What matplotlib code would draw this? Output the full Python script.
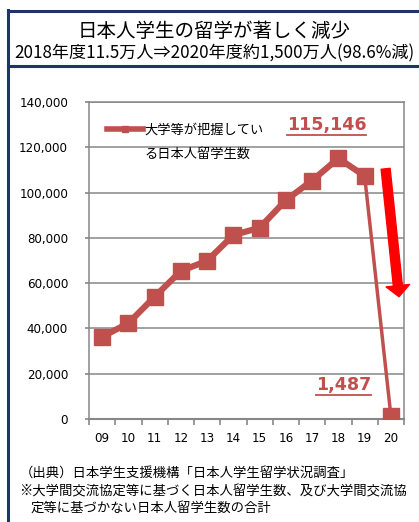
import matplotlib
matplotlib.use('Agg')
import matplotlib.pyplot as plt
from matplotlib.lines import Line2D

plt.rcParams['font.family'] = ['Noto Sans CJK JP', 'DejaVu Sans']

# 日本人学生留学状況調査 (年度, 人数)
years = ['09', '10', '11', '12', '13', '14', '15', '16', '17', '18', '19', '20']
students = [36302, 42320, 53991, 65373, 69869, 81219, 84456, 96641, 105301, 115146, 107346, 1487]
yticks = [0, 20000, 40000, 60000, 80000, 100000, 120000, 140000]

title = '日本人学生の留学が著しく減少'
subtitle = '2018年度11.5万人⇒2020年度約1,500万人(98.6%減)'
legend_lines = ['大学等が把握してい', 'る日本人留学生数']
notes = ['（出典）日本学生支援機構「日本人学生留学状況調査」',
         '※大学間交流協定等に基づく日本人留学生数、及び大学間交流協',
         '定等に基づかない日本人留学生数の合計']

red = '#c0504d'
grid_c = '#878787'
navy = '#1f3468'
W, H = 419, 522

fig = plt.figure(figsize=(W / 100, H / 100), dpi=100)

# 外枠とタイトル枠
def px_line(x0, y0, x1, y1, **kw):
    fig.add_artist(Line2D([x0 / W, x1 / W], [1 - y0 / H, 1 - y1 / H],
                          transform=fig.transFigure, **kw))

px_line(7.5, 10.5, W + 5, 10.5, color=navy, lw=2.2)
px_line(7.5, 65.5, W + 5, 65.5, color=navy, lw=2.2)
px_line(7.5, 9.5, 7.5, H + 5, color=navy, lw=2.2)

fig.text(214 / W, 1 - 31 / H, title, ha='center', va='center', fontsize=14)
fig.text(214 / W, 1 - 53 / H, subtitle, ha='center', va='center', fontsize=12.3,
         family=['Noto Sans CJK JP', 'DejaVu Sans'])

ax = fig.add_axes([89 / W, 1 - 419 / H, 315 / W, 317 / H])
x = list(range(len(years)))

# 2019年度までは太線、2020年度への落ち込みは細線
ax.plot(x[:-1], students[:-1], color=red, lw=4.5, marker='s', ms=12,
        solid_joinstyle='miter', zorder=3)
ax.plot(x[-2:], students[-2:], color=red, lw=2.5, zorder=2)
ax.plot(x[-1:], students[-1:], color=red, marker='s', ms=12, lw=0, zorder=3)

ax.set_xlim(-0.5, len(years) - 0.5)
ax.set_ylim(0, 140000)
ax.set_yticks(yticks)
ax.set_yticklabels([f'{v:,}' for v in yticks], family='DejaVu Sans', fontsize=8.6)
ax.set_xticks([i - 0.5 for i in range(len(years) + 1)], minor=False)
ax.set_xticklabels([])
ax.set_xticks(x, minor=True)
ax.set_xticklabels(years, minor=True, family='DejaVu Sans', fontsize=8.6)
ax.tick_params(axis='x', which='major', direction='out', length=4, width=1.2, color=grid_c)
ax.tick_params(axis='x', which='minor', length=0, pad=9)
ax.tick_params(axis='y', direction='out', length=3, width=1.2, color=grid_c, pad=12)
ax.grid(axis='y', color=grid_c, lw=1.1)
ax.set_axisbelow(True)
for s in ax.spines.values():
    s.set_color(grid_c)
    s.set_linewidth(1.1)
ax.spines['bottom'].set_linewidth(1.5)

# 凡例 (1行目のみ凡例、2行目は下に続けて書く)
leg_handle = Line2D([], [], color=red, lw=4, marker='s', ms=5)
leg = ax.legend([leg_handle], [legend_lines[0]], loc='upper left',
                bbox_to_anchor=(0.02, 0.97), frameon=False, fontsize=9.5,
                handlelength=2.7, handletextpad=0.15, numpoints=1)

# 数値ラベル
peak = students.index(max(students))
t1 = ax.text(8.55, 129800, f'{students[peak]:,}', color=red, fontsize=12.6,
             fontweight='bold', family='DejaVu Sans', ha='center', va='center')
t2 = ax.text(9.2, 15000, f'{students[-1]:,}', color=red, fontsize=12.6,
             fontweight='bold', family='DejaVu Sans', ha='center', va='center')

# 減少の矢印
ax.annotate('', xy=(11.31, 54000), xytext=(10.8, 110500),
            arrowprops=dict(arrowstyle='simple,head_length=8,head_width=17,tail_width=6.5',
                            mutation_scale=1, color='#ff0000', shrinkA=0, shrinkB=0),
            annotation_clip=False)

# 注記
fig.text(20 / W, 1 - 473 / H, notes[0], ha='left', va='center', fontsize=9.6)
fig.text(19 / W, 1 - 491 / H, notes[1], ha='left', va='center', fontsize=9.6)
fig.text(30 / W, 1 - 508 / H, notes[2], ha='left', va='center', fontsize=9.6)

fig.canvas.draw()

# 凡例の2行目
lb = leg.get_texts()[0].get_window_extent()
fig.text(lb.x0 / W, (lb.y0 - 24) / H, legend_lines[1], ha='left', va='bottom',
         fontsize=9.5)

# 数値ラベルの下線
for t in (t1, t2):
    bb = t.get_window_extent()
    yy = bb.y0 - 1
    fig.add_artist(Line2D([bb.x0 / W, bb.x1 / W], [yy / H, yy / H],
                          transform=fig.transFigure, color=red, lw=1.3))

fig.savefig('out.png', dpi=100)
